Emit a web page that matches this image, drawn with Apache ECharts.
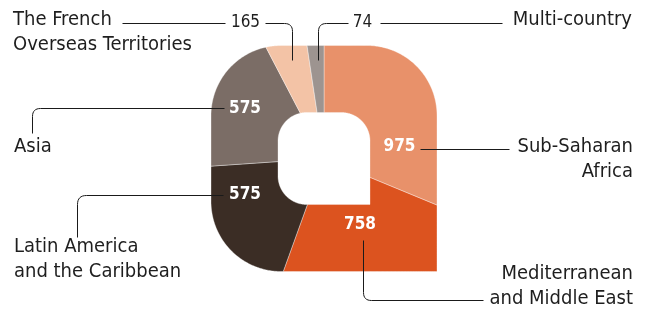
<!DOCTYPE html>
<html><head><meta charset="utf-8">
<script src="https://cdn.jsdelivr.net/npm/echarts@6/dist/echarts.min.js"></script>
<style>html,body{margin:0;padding:0;background:#fff}#c{width:649px;height:310px}</style>
</head><body><div id="c"></div>
<script>
// ---- data ----
const categories = ['Sub-Saharan\nAfrica', 'Mediterranean\nand Middle East', 'Latin America\nand the Caribbean', 'Asia', 'The French\nOverseas Territories', 'Multi-country'];
const values = [975, 758, 575, 575, 165, 74];
const colors = ['#E8916A', '#DC531F', '#3B2D25', '#7B6D66', '#F3C3A6', '#9D9490'];

// ---- layout ----
const total = values.reduce((a, b) => a + b, 0);
const starts = []; let acc = 0; values.forEach(v => { starts.push(acc); acc += v; });
const CENTER = [324, 158.5], HALF = 113, HOLE = 0.407, CORNER = 0.62;

function sdf(px, py, h, rad) {
  const r = (px > 1e-9 && py > 1e-9) ? 0 : rad * h;
  const qx = Math.abs(px) - h + r, qy = Math.abs(py) - h + r;
  return Math.hypot(Math.max(qx, 0), Math.max(qy, 0)) + Math.min(Math.max(qx, qy), 0) - r;
}
function rayR(deg) {
  const t = deg * Math.PI / 180, dx = Math.sin(t), dy = -Math.cos(t);
  let lo = 0, hi = 2;
  for (let i = 0; i < 40; i++) { const m = (lo + hi) / 2; if (sdf(dx * m, dy * m, 1, CORNER) < 0) lo = m; else hi = m; }
  return lo;
}

const FONT = '"DejaVu Sans Condensed", "DejaVu Sans", sans-serif';
const LH = 25;
const chart = echarts.init(document.getElementById('c'), null, { renderer: 'canvas' });

// label layout (positions only); y = centre of first line
const valuePos = [[399.5, 147, 'in'], [360, 225, 'in'], [245, 195, 'in'], [245, 109, 'in'], [245.5, 22.5, 'out'], [362.5, 22.5, 'out']];
const namePos = [
  { x: 633, y: 146.5, align: 'right' },
  { x: 633, y: 274, align: 'right' },
  { x: 14, y: 247, align: 'left' },
  { x: 14, y: 147, align: 'left' },
  { x: 13, y: 19.5, align: 'left' },
  { x: 632, y: 19.5, align: 'right' }
];
// leader polylines: each point [x,y] or [x,y,cornerRadius]
const leaders = [
  [[[420, 149], [509, 149]]],
  [[[363, 240], [363, 300, 8], [483, 300]]],
  [[[223, 195], [77, 195, 9], [77, 237]]],
  [[[224, 108], [32, 108, 8], [32, 133]]],
  [[[122, 23], [225, 23]], [[265, 23], [292, 23, 8], [292, 60]]],
  [[[318, 60], [318, 23, 8], [348, 23]], [[380, 23], [502, 23]]]
];
function rounded(pts) {
  const out = [];
  pts.forEach((p, k) => {
    if (p.length < 3 || k === 0 || k === pts.length - 1) { out.push([p[0] + 0.5, p[1] + 0.5]); return; }
    const a = pts[k - 1], b = pts[k + 1], r = p[2];
    const d1 = Math.hypot(p[0] - a[0], p[1] - a[1]), d2 = Math.hypot(b[0] - p[0], b[1] - p[1]);
    const s = [p[0] + (a[0] - p[0]) * r / d1, p[1] + (a[1] - p[1]) * r / d1];
    const e = [p[0] + (b[0] - p[0]) * r / d2, p[1] + (b[1] - p[1]) * r / d2];
    for (let t = 0; t <= 1.0001; t += 0.125) {
      const u = 1 - t;
      out.push([u * u * s[0] + 2 * u * t * p[0] + t * t * e[0] + 0.5, u * u * s[1] + 2 * u * t * p[1] + t * t * e[1] + 0.5]);
    }
  });
  return out;
}

const graphics = [];
leaders.forEach(group => group.forEach(pl => graphics.push({
  type: 'polyline', silent: true, z: 10, shape: { points: rounded(pl) }, style: { stroke: '#1a1a1a', lineWidth: 1, fill: null }
})));
values.forEach((v, i) => {
  const [x, y, k] = valuePos[i];
  graphics.push({ type: 'text', z: 11, style: { text: String(v), x, y, align: 'center', verticalAlign: 'middle', fill: k === 'in' ? '#fff' : '#1e1e1e', font: (k === 'in' ? 'bold 17px ' : '17px ') + FONT } });
});
categories.forEach((c, i) => {
  const p = namePos[i];
  const n = c.split('\n').length;
  graphics.push({ type: 'text', z: 11, style: { text: c, x: p.x, y: p.y + (n - 1) * LH / 2, align: p.align, verticalAlign: 'middle', fill: '#1e1e1e', font: '20px ' + FONT, lineHeight: LH } });
});

const sliceData = values.map((v, i) => [starts[i], starts[i] + v]);

chart.setOption({
  animation: false,
  backgroundColor: '#fff',
  polar: { center: CENTER, radius: HALF * 1.5 },
  radiusAxis: { type: 'value', min: 0, max: 1.5, show: false },
  angleAxis: { type: 'value', min: 0, max: total, startAngle: 90, clockwise: true, show: false },
  series: [{
    type: 'custom',
    coordinateSystem: 'polar',
    data: sliceData,
    renderItem: function (params, api) {
      const i = params.dataIndex;
      const s = api.value(0), e = api.value(1);
      const a0 = s / total * 360, a1 = e / total * 360;
      const angs = [];
      const N = Math.max(2, Math.ceil((a1 - a0) * 2));
      for (let k = 0; k <= N; k++) angs.push(a0 + (a1 - a0) * k / N);
      [45, 90, 135, 180, 225, 270, 315].forEach(c => { if (c > a0 && c < a1) angs.push(c); });
      angs.sort((a, b) => a - b);
      const pts = [];
      angs.forEach(a => pts.push(api.coord([rayR(a), a / 360 * total])));
      angs.slice().reverse().forEach(a => pts.push(api.coord([rayR(a) * HOLE, a / 360 * total])));
      return { type: 'polygon', shape: { points: pts }, style: { fill: colors[i], stroke: 'rgba(255,255,255,0.6)', lineWidth: 0.6 } };
    }
  }],
  graphic: graphics
});
</script></body></html>
